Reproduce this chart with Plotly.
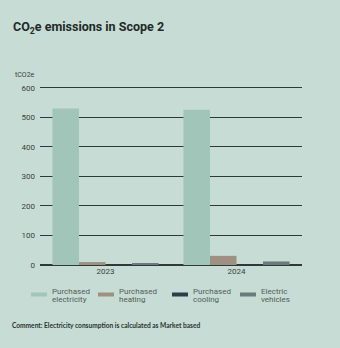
import plotly.graph_objects as go

years = ["2023", "2024"]
series_names = ["Purchased electricity", "Purchased heating", "Purchased cooling", "Electric vehicles"]
legend_line1 = ["Purchased", "Purchased", "Purchased", "Electric"]
legend_line2 = ["electricity", "heating", "cooling", "vehicles"]
electricity = [530, 526]
heating = [10, 31]
cooling = [0, 0]
electric_vehicles = [4, 12]
y_ticks = [0, 100, 200, 300, 400, 500, 600]
y_max = 620

colors = ["#a1c6b9", "#9e9183", "#2e3d47", "#6b7b7b"]
values = [electricity, heating, cooling, electric_vehicles]

W, H = 340, 348
ML, MR, MB = 40, 38, 83
PH = round(177 * y_max / 600)
MT = H - MB - PH
PW = W - ML - MR

def px2x(px):
    return (px - ML) / PW

def px2y(py):
    return (H - MB - py) / PH

fig = go.Figure()
for name, vals, c in zip(series_names, values, colors):
    fig.add_trace(go.Bar(x=years, y=vals, name=name, marker=dict(color=c, line=dict(width=0)),
                         showlegend=False))

bg = "#c6dcd4"
fig.update_layout(
    width=W, height=H,
    margin=dict(l=ML, r=MR, t=MT, b=MB),
    paper_bgcolor=bg, plot_bgcolor=bg,
    barmode="group", bargap=0.19, bargroupgap=0,
    font=dict(family="Roboto", size=8, color="#3a3f3e"),
    xaxis=dict(showgrid=False, showline=False, ticks="", tickfont=dict(size=8, color="#3a3f3e")),
    yaxis=dict(range=[0, y_max], tickvals=y_ticks, showgrid=True, gridcolor="#2f3a38", gridwidth=1,
               zeroline=True, zerolinecolor="#2f3a38", zerolinewidth=2,
               ticks="", ticklabelstandoff=4, tickfont=dict(size=8, color="#3a3f3e"), showline=False),
)

annotations = [
    dict(text="<b>CO<sub>2</sub>e emissions in Scope 2</b>", x=11, y=28, xref="paper", yref="paper",
         showarrow=False, font=dict(family="Roboto", size=12.5, color="#1f2a28"),
         xanchor="left", yanchor="middle"),
    dict(text="tCO2e", x=13, y=75, showarrow=False, font=dict(family="Roboto", size=7, color="#3a3f3e"),
         xanchor="left", yanchor="middle"),
    dict(text="<b>Comment: Electricity consumption is calculated as Market based</b>", x=10, y=325,
         showarrow=False, font=dict(family="Lato", size=6.6, color="#2a3230"),
         xanchor="left", yanchor="middle"),
]
for a in annotations:
    a["xref"] = "paper"; a["yref"] = "paper"
    a["x"] = px2x(a["x"]); a["y"] = px2y(a["y"])

shapes = []
legend_x = [31, 98, 172, 240]
for lx, l1, l2, c in zip(legend_x, legend_line1, legend_line2, colors):
    shapes.append(dict(type="rect", xref="paper", yref="paper",
                       x0=px2x(lx), x1=px2x(lx + 16), y0=px2y(296.5), y1=px2y(292.5),
                       fillcolor=c, line=dict(width=0)))
    for txt, ty in ((l1, 291.5), (l2, 299.5)):
        annotations.append(dict(text=txt, xref="paper", yref="paper", x=px2x(lx + 19), y=px2y(ty),
                                showarrow=False, xanchor="left", yanchor="middle",
                                font=dict(family="Roboto", size=8, color="#555c5b")))

fig.update_layout(annotations=annotations, shapes=shapes)
fig.write_html("out.html")
